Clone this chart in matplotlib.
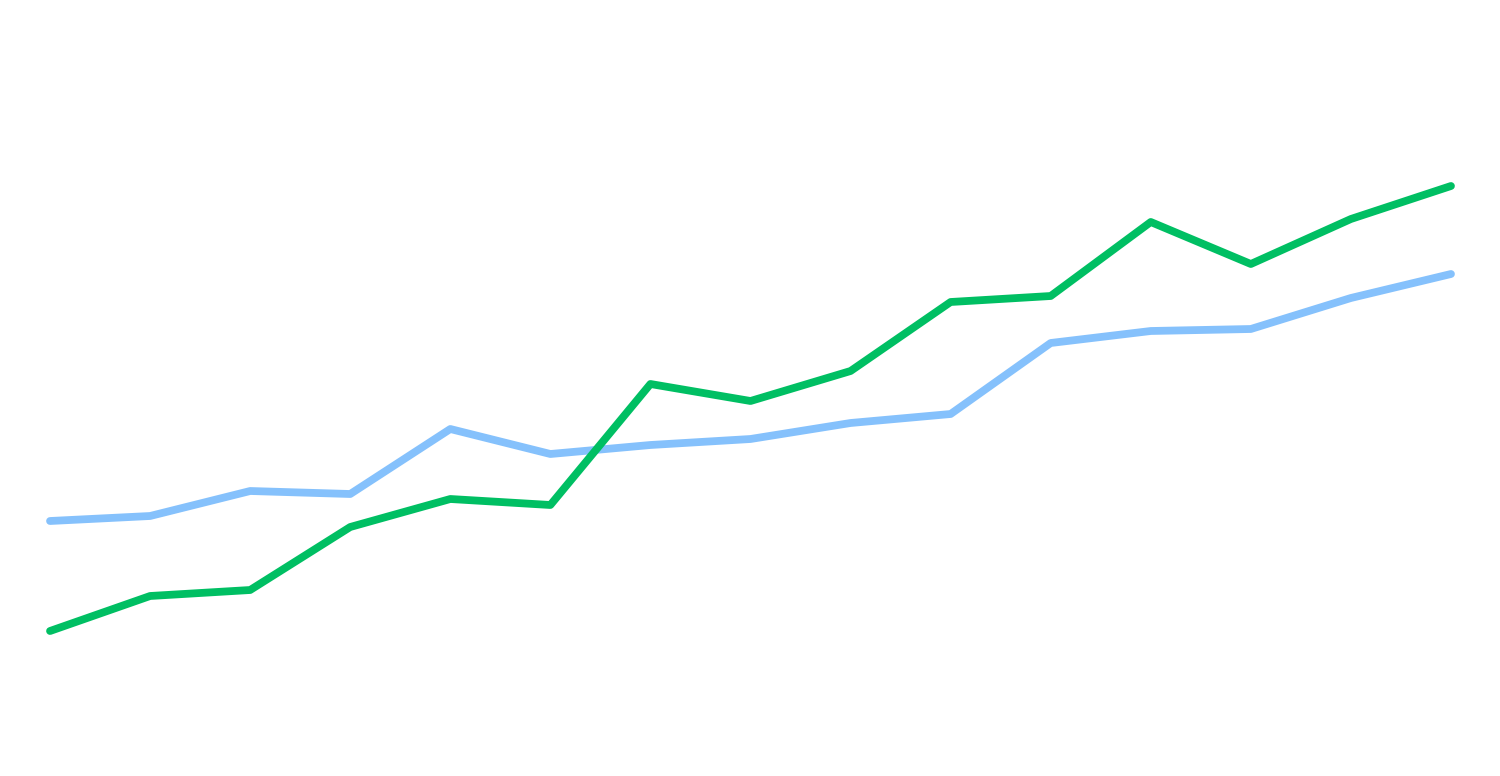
import matplotlib
matplotlib.use("Agg")
import matplotlib.pyplot as plt

# values (pixel height from the bottom)
points = list(range(15))
blue_vals = [255, 260, 285, 282, 347, 322, 331, 337, 353, 362, 433, 445, 447, 478, 502]
green_vals = [145, 180, 186, 249, 277, 271, 392, 375, 405, 474, 480, 554, 512, 557, 590]

fig = plt.figure(figsize=(15, 7.76), dpi=100)
ax = fig.add_axes([0, 0, 1, 1])

ax.plot(points, blue_vals, color="#85c1fc", linewidth=5.6, solid_capstyle="round",
        solid_joinstyle="round")
ax.plot(points, green_vals, color="#00bf63", linewidth=5.6, solid_capstyle="round",
        solid_joinstyle="round")

ax.set_xlim(-0.5, 14.49)
ax.set_ylim(0, 776)
ax.axis("off")

fig.savefig("out.png", dpi=100)
